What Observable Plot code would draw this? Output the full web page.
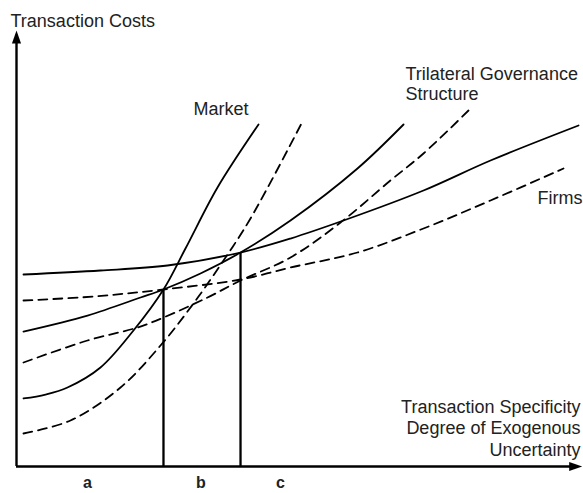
<!DOCTYPE html>
<html>
<head>
<meta charset="utf-8">
<script src="https://cdn.jsdelivr.net/npm/d3@7"></script>
<script src="https://cdn.jsdelivr.net/npm/@observablehq/plot@0.6"></script>
<style>
  html, body { margin: 0; padding: 0; background: #fff; }
  #chart svg { display: block; overflow: visible; }
</style>
</head>
<body>
<div id="chart"></div>
<script>
// ---- Data (abstract units: x = specificity/uncertainty 0..100, y = transaction costs 0..100) ----
const regimes = ["Market", "Trilateral", "Firms"];

// Solid curves
const marketSolidX = [1.24, 5.14, 9.04, 14.89, 20.74, 26.06, 29.96, 35.64, 42.91];
const marketSolidY = [15.60, 16.51, 18.12, 22.71, 31.19, 40.60, 50.00, 63.99, 78.44];

const trilateralSolidX = [1.24, 12.59, 21.99, 26.06, 32.62, 39.72, 48.58, 60.46, 68.62];
const trilateralSolidY = [30.96, 34.63, 38.76, 40.60, 44.27, 49.08, 56.42, 68.35, 78.44];

const firmsSolidX = [1.24, 14.89, 26.77, 39.72, 48.58, 57.98, 72.16, 84.04, 99.65];
const firmsSolidY = [44.04, 44.95, 46.10, 49.08, 52.29, 56.42, 63.30, 70.18, 78.21];

// Dashed curves
const marketDashedX = [1.24, 9.57, 18.44, 25.53, 31.38, 36.70, 41.49, 50.53];
const marketDashedY = [7.57, 10.55, 18.12, 27.75, 37.39, 47.25, 56.88, 78.67];

const trilateralDashedX = [1.24, 12.59, 21.45, 26.06, 33.87, 39.72, 48.58, 57.45, 66.31, 72.16, 80.14];
const trilateralDashedY = [23.85, 28.90, 31.88, 34.17, 38.76, 42.66, 47.94, 55.96, 65.60, 71.79, 81.65];

const firmsDashedX = [1.24, 13.65, 26.06, 39.72, 48.58, 60.46, 72.16, 84.04, 96.99];
const firmsDashedY = [38.07, 38.99, 40.60, 42.89, 45.64, 49.08, 54.59, 61.01, 68.35];

// Switch points (where the governance choice changes)
const cutoffX = [26.06, 39.72];
const cutoffY = [40.60, 49.08];

// Texts
const curveLabels = ["Market", "Trilateral Governance\nStructure", "Firms"];
const yTitle = "Transaction Costs";
const xTitle = "Transaction Specificity\nDegree of Exogenous\nUncertainty";
const segmentLabels = ["a", "b", "c"];

// ---- Build tables ----
function rows(regime, style, xs, ys) {
  return xs.map((x, i) => ({ regime, style, x, y: ys[i] }));
}
const solid = [
  ...rows(regimes[0], "solid", marketSolidX, marketSolidY),
  ...rows(regimes[1], "solid", trilateralSolidX, trilateralSolidY),
  ...rows(regimes[2], "solid", firmsSolidX, firmsSolidY)
];
const dashed = [
  ...rows(regimes[0], "dashed", marketDashedX, marketDashedY),
  ...rows(regimes[1], "dashed", trilateralDashedX, trilateralDashedY),
  ...rows(regimes[2], "dashed", firmsDashedX, firmsDashedY)
];
const cutoffs = cutoffX.map((x, i) => ({ x, y: cutoffY[i] }));

// Label placements (layout)
const curveLabelPos = [
  { x: 31.38, y: 80.73 },
  { x: 68.97, y: 84.17 },
  { x: 92.38, y: 60.32 }
];
const segmentLabelPos = [12.6, 32.7, 46.8];

// Narrow filled arrowheads as custom symbols
const arrowUp = {
  draw(ctx, size) {
    const r = Math.sqrt(size / Math.PI);
    ctx.moveTo(0, -r); ctx.lineTo(0.7 * r, r); ctx.lineTo(-0.7 * r, r); ctx.closePath();
  }
};
const arrowRight = {
  draw(ctx, size) {
    const r = Math.sqrt(size / Math.PI);
    ctx.moveTo(r, 0); ctx.lineTo(-r, 0.7 * r); ctx.lineTo(-r, -0.7 * r); ctx.closePath();
  }
};

const ink = "#000";
const textInk = "#222";

const chart = Plot.plot({
  width: 583,
  height: 493,
  marginLeft: 16,
  marginRight: 3,
  marginTop: 30,
  marginBottom: 27,
  x: { domain: [0, 100], axis: null },
  y: { domain: [0, 100], axis: null },
  style: { fontFamily: "'Liberation Sans', Arial, Helvetica, sans-serif", background: "#fff", overflow: "visible" },
  marks: [
    // axes
    Plot.ruleY([0], { x1: 0, x2: 99.2, stroke: ink, strokeWidth: 2.4 }),
    Plot.ruleX([0], { y1: 0, y2: 98, stroke: ink, strokeWidth: 2.4 }),
    Plot.dot([{ x: 0, y: 100 }], { x: "x", y: "y", dy: 6.5, r: 6.5, symbol: arrowUp, fill: ink, stroke: "none" }),
    Plot.dot([{ x: 100.3, y: 0 }], { x: "x", y: "y", dx: -6.5, r: 6.5, symbol: arrowRight, fill: ink, stroke: "none" }),
    // switch-point verticals
    Plot.ruleX(cutoffs, { x: "x", y1: 0, y2: "y", stroke: ink, strokeWidth: 2.3 }),
    // curves
    Plot.line(dashed, { x: "x", y: "y", z: "regime", curve: "catmull-rom", stroke: ink, strokeWidth: 1.8, strokeDasharray: "9,6" }),
    Plot.line(solid, { x: "x", y: "y", z: "regime", curve: "catmull-rom", stroke: ink, strokeWidth: 1.8 }),
    // curve labels
    Plot.text(curveLabels, {
      x: (d, i) => curveLabelPos[i].x, y: (d, i) => curveLabelPos[i].y, text: d => d,
      textAnchor: "start", lineAnchor: "bottom", lineHeight: 1.11, fontSize: 18, fill: textInk
    }),
    // axis titles
    Plot.text([yTitle], { x: -1.06, y: 100.7, text: d => d, textAnchor: "start", lineAnchor: "bottom", fontSize: 18, fill: textInk }),
    Plot.text([xTitle], { x: 100, y: 2.52, text: d => d, textAnchor: "end", lineAnchor: "bottom", lineHeight: 1.17, fontSize: 18, fill: textInk }),
    // segment labels
    Plot.text(segmentLabels, {
      x: (d, i) => segmentLabelPos[i], y: -5.0, text: d => d,
      textAnchor: "middle", lineAnchor: "bottom", fontSize: 16, fontWeight: "bold", fill: textInk
    })
  ]
});

document.getElementById("chart").appendChild(chart);
</script>
</body>
</html>
